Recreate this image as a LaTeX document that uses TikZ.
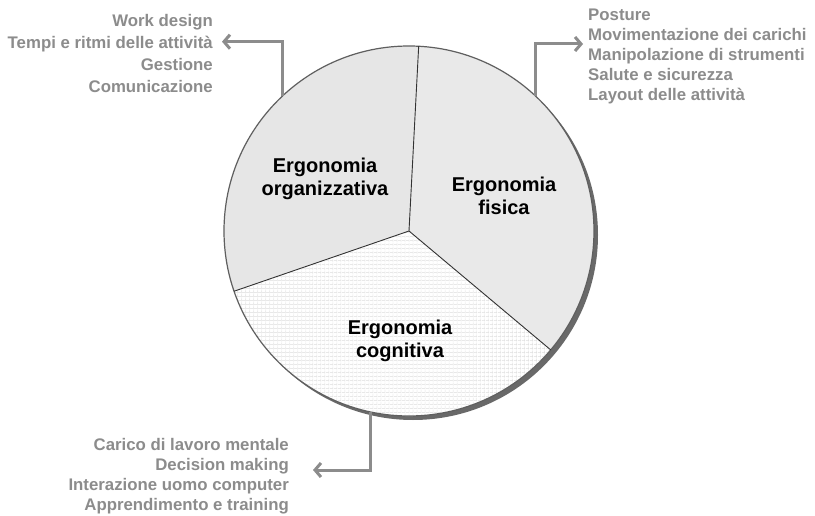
\documentclass[tikz,border=0pt]{standalone}
\usepackage{fontspec}
\setmainfont{Liberation Sans}
\usetikzlibrary{arrows.meta,patterns.meta}
\definecolor{sidegray}{RGB}{140,140,140}
\definecolor{arrowgray}{RGB}{140,140,140}
\definecolor{rimgray}{RGB}{95,95,95}
\definecolor{shadowgray}{RGB}{105,105,105}
\definecolor{sectorfill}{RGB}{233,233,233}
\definecolor{orgfill}{RGB}{230,230,230}
\definecolor{gridgray}{RGB}{220,220,220}
\begin{document}
\begin{tikzpicture}[x=1pt,y=1pt,
  sidetext/.style={text=sidegray, inner sep=0pt},
  sectorlabel/.style={font=\fontsize{20}{23}\selectfont\bfseries, align=center, inner sep=0pt},
  arrowlink/.style={draw=arrowgray, line width=3pt, -{Straight Barb[length=6pt,width=14pt]}},
  divider/.style={draw=black!80, line width=0.9pt},
]
\fill[white] (0,0) rectangle (815,515);
\useasboundingbox (0,0) rectangle (815,515);
\coordinate (c) at (409,284);
\def\R{185}
% shadow
\fill[shadowgray] (413,280) circle (\R);
% sectors
\fill[orgfill] (c) -- ++(87:\R) arc[start angle=87,end angle=199,radius=\R] -- cycle;
\fill[sectorfill] (c) -- ++(-40:\R) arc[start angle=-40,end angle=87,radius=\R] -- cycle;
\fill[white] (c) -- ++(199:\R) arc[start angle=199,end angle=320,radius=\R] -- cycle;
\fill[pattern={Lines[angle=0,distance=4pt,line width=0.7pt]}, pattern color=gridgray] (c) -- ++(199:\R) arc[start angle=199,end angle=320,radius=\R] -- cycle;
\fill[pattern={Lines[angle=90,distance=4pt,line width=0.7pt]}, pattern color=gridgray] (c) -- ++(199:\R) arc[start angle=199,end angle=320,radius=\R] -- cycle;
% rim
\node[circle, draw=rimgray, line width=1.2pt, minimum size=370pt, inner sep=0pt, outer sep=0pt] (pie) at (c) {};
% dividers
\draw[divider] (c) -- (pie.87);
\draw[divider] (c) -- (pie.199);
\draw[divider] (c) -- (pie.320);
% labels
\node[sectorlabel] (org) at (325,336.5) {Ergonomia\\organizzativa};
\node[sectorlabel] (fis) at (504,318.7) {Ergonomia\\fisica};
\node[sectorlabel] (cog) at (400,174.2) {Ergonomia\\cognitiva};
% side texts
\node[sidetext, anchor=east, align=right, font=\fontsize{16.8}{22}\selectfont\bfseries] (orgitems) at (213,461.2) {Work design\\Tempi e ritmi delle attività\\Gestione\\Comunicazione};
\node[sidetext, anchor=west, align=left, font=\fontsize{16.8}{20.2}\selectfont\bfseries] (fisitems) at (588,458.5) {Posture\\Movimentazione dei carichi\\Manipolazione di strumenti\\Salute e sicurezza\\Layout delle attività};
\node[sidetext, anchor=east, align=right, font=\fontsize{16.8}{20}\selectfont\bfseries] (cogitems) at (289,38.5) {Carico di lavoro mentale\\Decision making\\Interazione uomo computer\\Apprendimento e training};
% arrows
\coordinate (orgtip) at (222,473.3);
\coordinate (fistip) at (583,471);
\coordinate (cogtip) at (313,45);
\draw[arrowlink] (pie.133.3) |- (orgtip);
\draw[arrowlink] (pie.47.5) |- (fistip);
\draw[arrowlink] (pie.258.4) |- (cogtip);
\end{tikzpicture}
\end{document}
